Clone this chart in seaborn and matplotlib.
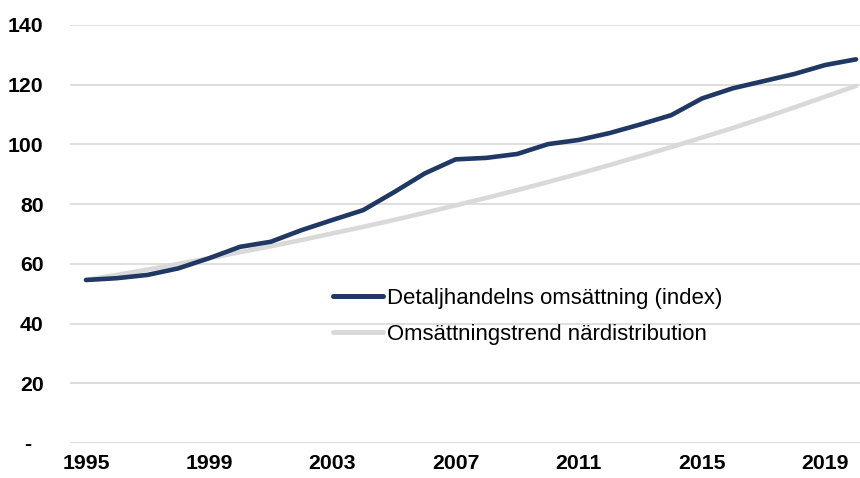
import matplotlib
matplotlib.use("Agg")
import matplotlib.pyplot as plt
import seaborn as sns
import pandas as pd
from matplotlib.lines import Line2D

years = list(range(1995, 2021))
retail_index = [54.6, 55.2, 56.3, 58.5, 61.9, 65.7, 67.4, 71.3, 74.7, 78.0,
                84.0, 90.3, 95.0, 95.5, 96.8, 100.1, 101.5, 103.8, 106.7, 109.8,
                115.4, 118.8, 121.2, 123.6, 126.6, 128.5]
trend = [54.6, 56.3, 58.1, 60.0, 61.9, 63.9, 65.9, 68.0, 70.2, 72.4,
         74.7, 77.1, 79.6, 82.1, 84.7, 87.4, 90.2, 93.1, 96.1, 99.1,
         102.3, 105.5, 108.9, 112.4, 116.0, 119.6]
series_names = ["Detaljhandelns omsättning (index)", "Omsättningstrend närdistribution"]
y_ticks = [0, 20, 40, 60, 80, 100, 120, 140]
y_tick_labels = ["-  ", "20", "40", "60", "80", "100", "120", "140"]
x_ticks = [1995, 1999, 2003, 2007, 2011, 2015, 2019]

df = pd.DataFrame({
    "year": years * 2,
    "value": retail_index + trend,
    "series": [series_names[0]] * len(years) + [series_names[1]] * len(years),
})

sns.set_theme(style="white")
plt.rcParams["font.family"] = ["Liberation Sans", "DejaVu Sans"]
plt.rcParams["text.color"] = "#000000"

fig = plt.figure(figsize=(8.6, 4.78), dpi=100)
ax = fig.add_axes([70 / 860, 1 - 443 / 478, 790 / 860, 418 / 478])

ax.set_ylim(0, 140)
ax.set_xlim(1994.48, 2020.13)
ax.set_yticks(y_ticks)
ax.set_yticklabels(y_tick_labels)
ax.set_xticks(x_ticks)
ax.set_xticklabels([str(x) for x in x_ticks])
ax.grid(axis="y", color="#D9D9D9", linewidth=1.2)
ax.set_axisbelow(True)
for s in ax.spines.values():
    s.set_visible(False)

sns.lineplot(data=df, x="year", y="value", hue="series",
             hue_order=[series_names[1], series_names[0]],
             palette={series_names[0]: "#1F3864", series_names[1]: "#D9D9D9"},
             linewidth=3.3, ax=ax, legend=False)
for line in ax.lines:
    line.set_solid_capstyle("round")
    line.set_solid_joinstyle("round")

ax.tick_params(axis="both", length=0, labelsize=15.3)
ax.tick_params(axis="y", pad=19)
ax.tick_params(axis="x", pad=8)
for lbl in ax.get_xticklabels() + ax.get_yticklabels():
    lbl.set_fontweight("bold")
    lbl.set_color("#000000")
ax.set_xlabel("")
ax.set_ylabel("")

handles = [Line2D([0], [0], color="#1F3864", lw=3.6, solid_capstyle="round"),
           Line2D([0], [0], color="#D9D9D9", lw=3.6, solid_capstyle="round")]
leg = fig.legend(handles, series_names, loc="upper left",
                 bbox_to_anchor=(333 / 860, 1 - 288 / 478), frameon=False,
                 fontsize=15.9, handlelength=2.27, handletextpad=0.18,
                 labelspacing=0.67, borderpad=0, borderaxespad=0)
for t in leg.get_texts():
    t.set_color("#000000")

fig.savefig("out.png", dpi=100)
